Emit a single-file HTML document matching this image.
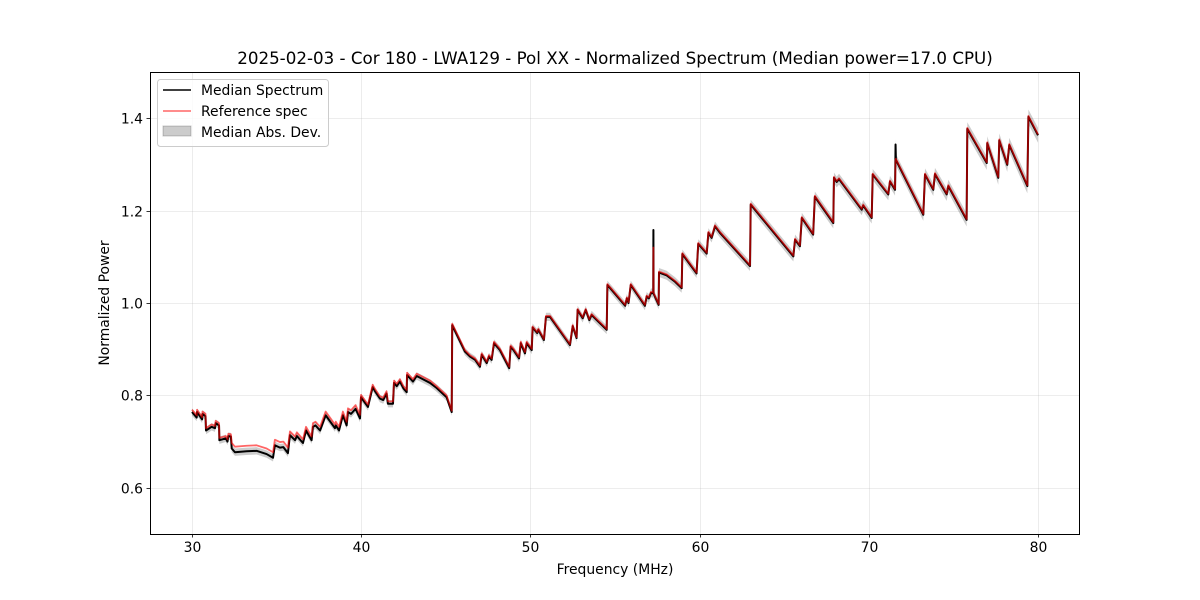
<!DOCTYPE html>
<html><head><meta charset="utf-8"><style>
body{margin:0;background:#fff}
svg{display:block;font-family:"DejaVu Sans","Liberation Sans",sans-serif}
</style></head><body>
<svg id="chart" width="1200" height="600" viewBox="0 0 1200 600" xmlns="http://www.w3.org/2000/svg">
<rect x="0" y="0" width="1200" height="600" fill="#fff"/>
<text x="615" y="64" text-anchor="middle" font-size="16.7" fill="#000">2025-02-03 - Cor 180 - LWA129 - Pol XX - Normalized Spectrum (Median power=17.0 CPU)</text>
<g id="grid"></g>
<g id="plot"></g>
<rect x="150.5" y="72.5" width="929" height="462" fill="none" stroke="#000" stroke-width="1"/>
<g id="ticks"></g>
<text x="615" y="574" text-anchor="middle" font-size="13.9">Frequency (MHz)</text>
<text x="109" y="303" text-anchor="middle" font-size="13.9" transform="rotate(-90 109 303)">Normalized Power</text>
<g>
<rect x="157.5" y="79.5" width="171" height="67" rx="3" fill="#fff" fill-opacity="0.8" stroke="#ccc"/>
<g><line x1="163" y1="90" x2="191" y2="90" stroke="#000" stroke-width="1.5"/><text x="201" y="95" font-size="13.9">Median Spectrum</text></g>
<g><line x1="163" y1="111" x2="191" y2="111" stroke="#f00" stroke-opacity="0.6" stroke-width="1.5"/><text x="201" y="116" font-size="13.9">Reference spec</text></g>
<g><rect x="163" y="126" width="28" height="10" fill="#000" fill-opacity="0.2" stroke="#000" stroke-opacity="0.2"/><text x="201" y="137" font-size="13.9">Median Abs. Dev.</text></g>
</g>
</svg>
<script>
const freqs=[30.0,30.28,30.3,30.6,30.62,30.8,30.83,31.16,31.36,31.4,31.6,31.62,32.0,32.1,32.15,32.3,32.35,32.54,33.23,33.82,34.41,34.79,34.9,35.2,35.4,35.67,35.79,36.09,36.2,36.56,36.74,37.07,37.15,37.3,37.57,37.9,38.45,38.5,38.69,38.92,39.14,39.22,39.4,39.67,39.93,39.99,40.4,40.68,40.8,41.11,41.3,41.5,41.58,41.88,41.94,42.1,42.29,42.5,42.69,42.71,43.06,43.28,44.07,44.46,45.05,45.35,45.38,46.13,46.43,46.73,47.02,47.12,47.42,47.55,47.71,47.85,48.2,48.75,48.83,49.0,49.33,49.43,49.68,49.78,50.08,50.13,50.4,50.47,50.8,50.92,51.16,52.34,52.5,52.73,52.79,53.09,53.27,53.48,53.62,53.92,54.51,54.55,54.81,55.6,55.7,55.8,55.93,56.77,56.87,57.0,57.13,57.26,57.27,57.28,57.58,57.6,58.05,58.55,58.94,58.98,59.82,59.92,60.42,60.52,60.71,60.91,61.2,62.98,63.02,65.54,65.64,65.93,66.04,66.71,66.81,67.9,67.94,68.1,68.24,69.58,69.67,70.17,70.23,71.15,71.25,71.55,71.58,71.6,73.22,73.32,73.81,73.91,74.6,74.7,75.78,75.82,76.97,77.0,77.65,77.71,78.18,78.3,79.37,79.43,80.0];
const medianPower=[0.764,0.752,0.764,0.748,0.76,0.755,0.724,0.732,0.729,0.74,0.735,0.703,0.707,0.700,0.712,0.711,0.685,0.677,0.679,0.680,0.673,0.665,0.692,0.687,0.688,0.675,0.714,0.703,0.712,0.697,0.724,0.703,0.732,0.735,0.724,0.757,0.729,0.735,0.724,0.757,0.735,0.764,0.760,0.771,0.750,0.796,0.775,0.818,0.810,0.793,0.790,0.804,0.782,0.782,0.827,0.820,0.830,0.815,0.807,0.844,0.830,0.842,0.827,0.816,0.796,0.764,0.952,0.895,0.884,0.877,0.862,0.888,0.870,0.884,0.877,0.913,0.898,0.859,0.905,0.898,0.880,0.913,0.891,0.913,0.898,0.947,0.935,0.942,0.920,0.970,0.970,0.909,0.950,0.924,0.985,0.967,0.985,0.963,0.974,0.963,0.942,1.039,1.028,0.994,1.010,1.000,1.039,0.994,1.014,1.010,1.022,1.021,1.158,1.020,0.996,1.066,1.060,1.046,1.032,1.106,1.064,1.128,1.107,1.152,1.141,1.166,1.152,1.080,1.213,1.101,1.137,1.123,1.184,1.148,1.230,1.173,1.271,1.262,1.268,1.202,1.211,1.184,1.278,1.235,1.263,1.245,1.343,1.310,1.191,1.278,1.245,1.279,1.235,1.253,1.180,1.377,1.303,1.346,1.271,1.352,1.299,1.342,1.253,1.403,1.363];
const refPower=[0.769,0.757,0.769,0.753,0.765,0.760,0.729,0.737,0.734,0.745,0.740,0.708,0.712,0.705,0.717,0.716,0.697,0.689,0.691,0.692,0.685,0.677,0.704,0.699,0.700,0.687,0.722,0.711,0.720,0.705,0.732,0.711,0.740,0.743,0.732,0.765,0.737,0.743,0.732,0.765,0.743,0.772,0.768,0.779,0.758,0.801,0.780,0.823,0.815,0.798,0.795,0.809,0.787,0.787,0.832,0.825,0.835,0.820,0.812,0.849,0.835,0.847,0.832,0.820,0.800,0.767,0.955,0.898,0.887,0.880,0.865,0.891,0.873,0.887,0.880,0.916,0.901,0.862,0.908,0.901,0.883,0.916,0.894,0.916,0.901,0.949,0.937,0.944,0.922,0.972,0.972,0.911,0.952,0.926,0.987,0.969,0.987,0.965,0.976,0.965,0.944,1.041,1.030,0.996,1.012,1.002,1.041,0.996,1.016,1.012,1.024,1.023,1.120,1.022,0.998,1.068,1.062,1.048,1.034,1.108,1.066,1.130,1.109,1.154,1.143,1.168,1.154,1.082,1.215,1.103,1.139,1.125,1.186,1.150,1.232,1.175,1.273,1.264,1.270,1.204,1.213,1.186,1.280,1.237,1.265,1.247,1.310,1.312,1.193,1.280,1.247,1.281,1.237,1.255,1.182,1.379,1.305,1.348,1.273,1.354,1.301,1.344,1.255,1.405,1.365];
const madFreqs=[30,45,60,70,80];
const madValues=[0.008,0.008,0.010,0.012,0.016];
const xTicks=[30,40,50,60,70,80];
const yTicks=[0.6,0.8,1.0,1.2,1.4];
const xDomain=[27.52,82.48], yDomain=[0.5,1.5];
const X0=150,X1=1080,Y0=534,Y1=72;
const xs=v=>X0+(v-xDomain[0])/(xDomain[1]-xDomain[0])*(X1-X0);
const ys=v=>Y0-(v-yDomain[0])/(yDomain[1]-yDomain[0])*(Y0-Y1);
const NS="http://www.w3.org/2000/svg";
function mk(tag,attrs,parent){const e=document.createElementNS(NS,tag);for(const k in attrs)e.setAttribute(k,attrs[k]);parent.appendChild(e);return e;}
function madAt(f){for(let i=0;i<madFreqs.length-1;i++){if(f<=madFreqs[i+1]){const t=(f-madFreqs[i])/(madFreqs[i+1]-madFreqs[i]);return madValues[i]+t*(madValues[i+1]-madValues[i]);}}return madValues[madValues.length-1];}
const grid=document.getElementById('grid'),plot=document.getElementById('plot'),ticks=document.getElementById('ticks');
xTicks.forEach(t=>{const x=Math.round(xs(t))+0.5;
const g=mk('line',{x1:x,x2:x,y1:Y1,y2:Y0,stroke:'#b0b0b0','stroke-opacity':0.3,'stroke-width':0.8},grid);


const tk=mk('line',{x1:x,x2:x,y1:Y0,y2:Y0+3.5,stroke:'#000','stroke-width':0.8},ticks);


const tl=mk('text',{x:x,y:Y0+18,'text-anchor':'middle','font-size':13.9},ticks);tl.textContent=t;

});
yTicks.forEach(t=>{const y=Math.round(ys(t))+0.5;
const g=mk('line',{x1:X0,x2:X1,y1:y,y2:y,stroke:'#b0b0b0','stroke-opacity':0.3,'stroke-width':0.8},grid);


const tk=mk('line',{x1:X0-3.5,x2:X0,y1:y,y2:y,stroke:'#000','stroke-width':0.8},ticks);


const tl=mk('text',{x:X0-7,y:y+5,'text-anchor':'end','font-size':13.9},ticks);tl.textContent=t.toFixed(1);

});
let up=[],dn=[];
freqs.forEach((f,i)=>{const m=madAt(f);up.push(xs(f).toFixed(2)+','+ys(medianPower[i]+m).toFixed(2));dn.unshift(xs(f).toFixed(2)+','+ys(medianPower[i]-m).toFixed(2));});
const band=mk('polygon',{points:up.concat(dn).join(' '),fill:'#000','fill-opacity':0.2,stroke:'none'},plot);


const med=mk('polyline',{points:freqs.map((f,i)=>xs(f).toFixed(2)+','+ys(medianPower[i]).toFixed(2)).join(' '),fill:'none',stroke:'#000','stroke-width':2,'stroke-linejoin':'round'},plot);


const ref=mk('polyline',{points:freqs.map((f,i)=>xs(f).toFixed(2)+','+ys(refPower[i]).toFixed(2)).join(' '),fill:'none',stroke:'#f00','stroke-opacity':0.6,'stroke-width':1.8,'stroke-linejoin':'round'},plot);


</script>
</body></html>
